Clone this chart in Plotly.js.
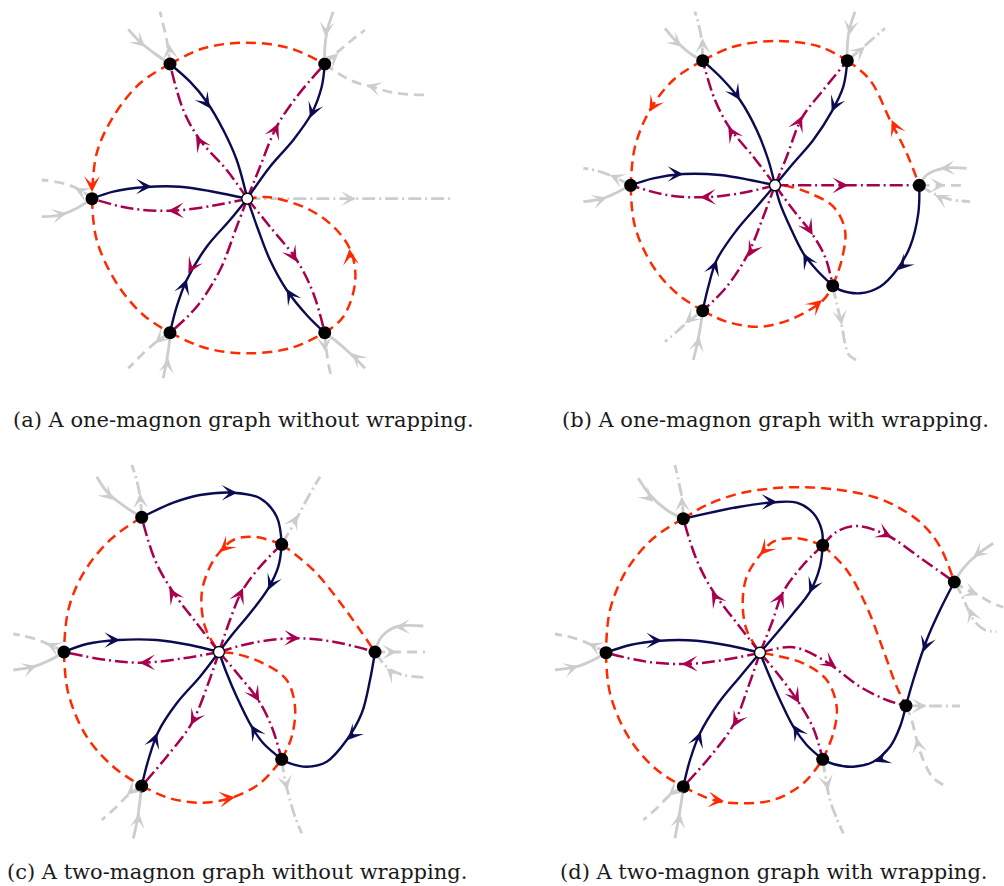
<!DOCTYPE html>
<html><head><meta charset="utf-8">
<script src="https://cdn.plot.ly/plotly-3.0.1.min.js"></script>
<style>html,body{margin:0;padding:0;background:#fff}#chart{width:1004px;height:886px}</style>
</head><body><div id="chart"></div>
<script>
// ---------- captions ----------
const captions = ["(a) A one-magnon graph without wrapping.", "(b) A one-magnon graph with wrapping.",
                  "(c) A two-magnon graph without wrapping.", "(d) A two-magnon graph with wrapping."];
const captionX = [243, 775, 237, 774];
const captionY = [420, 420, 872, 872];

// ---------- panel (a) ----------
const aCenter = [[247.3,198.7]];
const aNodes = [[92,198.7],[170,64],[324.7,64],[170,332.7],[324.7,332.7]];
const aNavy = [
 [[92,198.7],[113.3,191.7],[143.3,187.3],[180,186.7],[213.3,191.7],[247.3,198.7]],
 [[170,64],[190,81.7],[206.7,101.7],[223.3,130],[236.7,160],[247.3,198.7]],
 [[324.7,64],[321.7,86.7],[311.7,113.3],[293.3,140],[270,166.7],[247.3,198.7]],
 [[170,332.7],[176.7,306.7],[186.7,280],[206.7,246.7],[230,220],[247.3,198.7]],
 [[324.7,332.7],[306.7,315],[286.7,290],[270,260],[258.3,230],[247.3,198.7]]
];
const aPurple = [
 [[247.3,198.7],[216.7,205],[173.3,210.7],[130,208.3],[92,198.7]],
 [[247.3,198.7],[226.7,170],[200,140],[183.3,110],[170,64]],
 [[247.3,198.7],[260,166.7],[276.7,126.7],[296.7,96.7],[324.7,64]],
 [[247.3,198.7],[236.7,226.7],[220,270],[196.7,306.7],[170,332.7]],
 [[247.3,198.7],[270,226.7],[296.7,260],[313.3,293.3],[324.7,332.7]]
];
const aRed = [
 [[170,64],[203.3,48.3],[246.7,42.7],[290,48.3],[324.7,64]],
 [[170,64],[140,83.3],[113.3,116.7],[96.7,153.3],[92,198.7]],
 [[92,198.7],[96.7,240],[116.7,283.3],[143.3,315],[170,332.7]],
 [[170,332.7],[206.7,348.3],[246.7,353.3],[290,348.3],[324.7,332.7]],
 [[324.7,332.7],[343.3,316.7],[355,283.3],[351.7,253.3],[336.7,230],[310,210],[270,197.3],[247.3,198.7]]
];
const aGraySolid = [
 [[128.3,29.3],[140,41.7],[156.7,55],[170,64]],
 [[333.3,11.7],[327.3,30],[324.7,50],[324.7,64]],
 [[41.7,216.7],[60,215],[76.7,208.3],[92,198.7]],
 [[163.3,378.3],[166.7,360],[169.3,343.3],[170,332.7]],
 [[365,368.3],[350,353.3],[336.7,341.7],[324.7,332.7]]
];
const aGrayDash = [
 [[170,64],[166.7,40],[163.3,25],[160,11.7]],
 [[324.7,64],[340,50],[352,40],[365,30]],
 [[324.7,64],[350,80],[373.3,87.3],[396.7,93.3],[426.7,95]],
 [[92,198.7],[80,190],[63.3,183.3],[41.7,180]],
 [[170,332.7],[156.7,341.7],[143.3,353.3],[128.3,368.3]],
 [[324.7,332.7],[326,346.7],[328.3,363.3],[331.7,378.3]]
];
const aGrayDashDot = [ [[247.3,198.7],[350,198.7],[453.3,198.7]] ];
const aNavyArrows = [[151.7,186.5,1,0],[210,108.3,0.7,1],[310,118,-0.4,1],[186.7,279,0.33,-1],[286.7,289,-0.6,-1]];
const aPurpleArrows = [[168,210.7,-1,0.02],[196,136,-0.6,-1],[278.3,123.3,0.45,-1],[188.3,273.3,-0.55,1],[296.7,261.7,0.6,1]];
const aRedArrows = [[92,192,0,1],[349.5,249,-0.1,-1]];
const aGrayArrows = [[145,46.7,1,0.9],[325.5,36.7,-0.1,1],[66.7,213.3,1,-0.2],[168.3,358.3,0.15,-1],[351.7,353.3,-1,-0.9],
 [169,44,-0.1,-1],[338.3,53.3,1,-0.9],[366.7,85,-1,-0.3],[75,188.3,-1,-0.5],[155,343.3,-1,0.9],[325.3,351.7,0.08,1],[356,198.7,1,0]];

// ---------- panel (b) ----------
const bCenter = [[775,185.3]];
const bNodes = [[630.7,185.3],[702.7,60.7],[847.3,60.7],[919.3,185.3],[702.7,310.7],[832.7,285.7]];
const bNavy = [
 [[630.7,185.3],[653.3,178.3],[683.3,174],[720,175],[750,180],[775,185.3]],
 [[702.7,60.7],[723.3,80],[740,100],[756.7,130],[768.3,160],[775,185.3]],
 [[847.3,60.7],[843.3,86.7],[831.7,111.7],[813.3,140],[793.3,163.3],[775,185.3]],
 [[702.7,310.7],[708.3,286.7],[716.7,260],[736.7,230],[756.7,206.7],[775,185.3]],
 [[832.7,285.7],[816.7,270],[803.3,253.3],[790,226.7],[780,203.3],[775,185.3]],
 [[919.3,185.3],[918.3,213.3],[910,246.7],[896.7,270],[880,286.7],[860,293.3],[840,290],[832.7,285.7]]
];
const bPurple = [
 [[775,185.3],[740,193.3],[703.3,197.3],[666.7,195],[630.7,185.3]],
 [[775,185.3],[753.3,156.7],[730,128.3],[715,100],[702.7,60.7]],
 [[775,185.3],[786.7,156.7],[801.7,118.3],[823.3,90],[847.3,60.7]],
 [[775,185.3],[847,185.3],[919.3,185.3]],
 [[775,185.3],[763.3,216.7],[748.3,253.3],[726.7,286.7],[702.7,310.7]],
 [[775,185.3],[793.3,210],[811.7,233.3],[825,256.7],[832.7,285.7]]
];
const bRed = [
 [[702.7,60.7],[733.3,46.7],[776.7,41],[820,46.7],[847.3,60.7]],
 [[702.7,60.7],[673.3,80],[650,110],[635,146.7],[630.7,185.3]],
 [[630.7,185.3],[635,226.7],[653.3,266.7],[676.7,293.3],[702.7,310.7]],
 [[702.7,310.7],[726.7,321.7],[760,326.7],[793.3,318.3],[823.3,300],[832.7,285.7]],
 [[832.7,285.7],[841.7,260],[845,230],[833.3,206.7],[810,193.3],[790,186.7],[775,185.3]],
 [[847.3,60.7],[870,80],[890,120],[906.7,153.3],[919.3,185.3]]
];
const bGraySolid = [
 [[665,28.3],[675,40],[690,53.3],[702.7,60.7]],
 [[855,11.7],[849.3,30],[847.3,46.7],[847.3,60.7]],
 [[583.3,201.7],[603.3,198.3],[618.3,191.7],[630.7,185.3]],
 [[966.7,168.3],[943.3,168.3],[926.7,175],[919.3,185.3]],
 [[693.3,360],[697.3,343.3],[700.7,325],[702.7,310.7]]
];
const bGrayDash = [ [[919.3,185.3],[943,185.3],[966.7,185.3]] ];
const bGrayDashDot = [
 [[702.7,60.7],[701.7,40],[698.3,23.3],[695,11.7]],
 [[847.3,60.7],[860,50],[873.3,38.3],[885,28.3]],
 [[630.7,185.3],[613.3,176.7],[596.7,170.7],[583.3,168.3]],
 [[919.3,185.3],[933.3,193.3],[950,199.3],[970,201.7]],
 [[702.7,310.7],[688.3,321.7],[676.7,331.7],[665,341.7]],
 [[832.7,285.7],[837,305],[841.7,325],[845,343],[849,355],[856,360]]
];
const bNavyArrows = [[683.3,174,1,0],[740,100,0.65,1],[831.7,111.7,-0.45,1],[716.7,260,0.35,-1],[803.3,253.3,-0.55,-1],[898.3,270,-0.75,0.75]];
const bPurpleArrows = [[700,197.3,-1,0.03],[728.3,126.7,-0.6,-1],[802,116,0.45,-1],[848.3,185.3,1,0],[748.3,256.7,-0.55,1],[812.7,235,0.6,1]];
const bRedArrows = [[649.3,111.7,-0.6,1],[822,300,1,-0.85],[891.7,120,-0.45,-1]];
const bGrayArrows = [[681.7,46.7,1,0.85],[849.3,35,-0.15,1],[606.7,197.7,1,-0.3],[940,168.3,-1,0.05],[699.3,336.7,0.2,-1],
 [945,185.3,1,0],[702.7,38.3,0,-1],[865,46.7,1,-0.85],[610,175,-1,-0.45],[935,195,-1,-0.5],[685,323.3,-1,0.85],[841.7,325,0.15,1]];

// ---------- panel (c) ----------
const cCenter = [[219,652]];
const cNodes = [[64,652],[141.7,517.3],[281.7,544.3],[375,652],[141.7,786],[281.7,759.3]];
const cNavy = [
 [[64,652],[86.7,644],[118.3,640],[156.7,640],[190,645],[219,652]],
 [[141.7,517.3],[173.3,502.7],[200,495],[233.3,492.7],[260,498.3],[276.7,516.7],[281.7,544.3]],
 [[281.7,544.3],[278.3,566.7],[268.3,588.3],[250,613.3],[233.3,633.3],[219,652]],
 [[141.7,786],[148.3,760],[158.3,731.7],[176.7,703.3],[200,676.7],[219,652]],
 [[281.7,759.3],[263.3,743.3],[251.7,726.7],[236.7,696.7],[226.7,673.3],[219,652]],
 [[375,652],[370,680],[361.7,713.3],[346.7,740],[326.7,761.7],[306.7,766.7],[290,763.3],[281.7,759.3]]
];
const cPurple = [
 [[219,652],[183.3,658.3],[143.3,662.7],[106.7,660],[64,652]],
 [[219,652],[196.7,623.3],[171.7,590],[155,560],[141.7,517.3]],
 [[219,652],[230,620],[241.7,591.7],[260,566.7],[281.7,544.3]],
 [[219,652],[253.3,642.7],[293.3,638.3],[333.3,641.7],[375,652]],
 [[219,652],[208.3,683.3],[191.7,723.3],[166.7,756.7],[141.7,786]],
 [[219,652],[240,676.7],[258.3,700],[271.7,726.7],[281.7,759.3]]
];
const cRed = [
 [[141.7,517.3],[110,540],[83.3,573.3],[68.3,610],[64,652]],
 [[64,652],[68.3,693.3],[86.7,736.7],[113.3,766.7],[141.7,786]],
 [[141.7,786],[170,798.3],[200,802.7],[230,798.3],[260,783.3],[281.7,759.3]],
 [[281.7,759.3],[291.7,736.7],[295,706.7],[286.7,680],[263.3,663.3],[233.3,653.3],[219,652]],
 [[281.7,544.3],[313.3,570],[343.3,606.7],[375,652]],
 [[281.7,544.3],[253.3,536.7],[233.3,540],[220,551.7],[210,566.7],[201.7,593.3],[205,626.7],[219,652]]
];
const cGraySolid = [
 [[96.7,476.7],[108.3,493.3],[125,506.7],[141.7,517.3]],
 [[13.3,670],[33.3,666.7],[50,660],[64,652]],
 [[423.3,626],[396.7,626.7],[381.7,636.7],[375,652]],
 [[133.3,838.3],[137.3,820],[140,800],[141.7,786]]
];
const cGrayDash = [
 [[64,652],[50,645],[33.3,638.3],[13.3,634]],
 [[375,652],[400,652],[425,652]],
 [[141.7,786],[128.3,795],[115,808.3],[101.7,820]]
];
const cGrayDashDot = [
 [[141.7,517.3],[140,496.7],[136.7,480],[131.7,465]],
 [[281.7,544.3],[295,521.7],[308.3,496.7],[320,476.7]],
 [[375,652],[388.3,668.3],[403.3,675],[423.3,677.3]],
 [[281.7,759.3],[285,780],[290,800],[295,816.7],[301.7,833.3]]
];
const cNavyArrows = [[120,640,1,0],[237.3,492.7,1,0],[268.3,590,-0.45,1],[157,733,0.35,-1],[251,725,-0.6,-1],[347.7,740,-0.7,0.75]];
const cPurpleArrows = [[139.3,662.7,-1,0.02],[169.3,588.3,-0.6,-1],[243,588,0.45,-1],[300,638.3,1,0.02],[190.7,725,-0.55,1],[259.3,701.7,0.6,1]];
const cRedArrows = [[235,797.3,1,-0.15],[220,552,-0.75,0.7]];
const cGrayArrows = [[113.3,500,1,0.9],[36.7,666,1,-0.3],[395,627.3,-1,0.05],[139.3,813.3,0.15,-1],[46.7,643.3,-1,-0.45],
 [397,652,1,0],[126.7,795,-1,0.85],[140,493.3,-0.05,-1],[297.7,515,0.55,-1],[386.7,668.3,-1,-1],[287.3,790,0.2,1]];

// ---------- panel (d) ----------
const dCenter = [[760,652.7]];
const dNodes = [[606,652.7],[683.3,518.7],[822.7,545.3],[954.3,582],[906,705.7],[822.7,759.3],[683.3,786.7]];
const dNavy = [
 [[606,652.7],[630,645],[660,640.7],[696.7,640.7],[730,645.7],[760,652.7]],
 [[683.3,518.7],[740,506.7],[773.3,502.3],[796.7,502.7],[813.3,513.3],[821.7,530],[822.7,545.3]],
 [[822.7,545.3],[820,566.7],[810,591.7],[793.3,613.3],[776.7,633.3],[760,652.7]],
 [[683.3,786.7],[690,760],[700,733.3],[718.3,703.3],[740,676.7],[760,652.7]],
 [[822.7,759.3],[806.7,745],[793.3,726.7],[780,700],[768.3,673.3],[760,652.7]],
 [[954.3,582],[940,610],[926.7,640],[913.3,680],[906,705.7]],
 [[906,705.7],[900,726.7],[890,746.7],[873.3,761.7],[853.3,766.7],[833.3,764],[822.7,759.3]]
];
const dPurple = [
 [[760,652.7],[723.3,660],[686.7,664],[646.7,661.7],[606,652.7]],
 [[760,652.7],[738.3,625],[713.3,591.7],[696.7,560],[683.3,518.7]],
 [[760,652.7],[771.7,623.3],[783.3,591.7],[801.7,566.7],[822.7,545.3]],
 [[760,652.7],[748.3,686.7],[733.3,725],[710,756.7],[683.3,786.7]],
 [[760,652.7],[780,676.7],[798.3,701.7],[813.3,728.3],[822.7,759.3]],
 [[760,652.7],[793.3,647.3],[823.3,660],[860,686.7],[886.7,700],[906,705.7]],
 [[822.7,545.3],[836.7,531.7],[856.7,526],[886.7,535],[923.3,560],[954.3,582]]
];
const dRed = [
 [[683.3,518.7],[706.7,505],[740,493.3],[773.3,488.3],[806.7,487.3],[840,490],[873.3,496.7],[900,508.3],[923.3,525],[940,546.7],[954.3,582]],
 [[683.3,518.7],[653.3,538.3],[626.7,570],[610,610],[606,652.7]],
 [[606,652.7],[610,693.3],[628.3,736.7],[655,768.3],[683.3,786.7]],
 [[683.3,786.7],[713.3,800],[740,803.3],[773.3,800],[803.3,783.3],[822.7,759.3]],
 [[822.7,759.3],[833.3,733.3],[836.7,706.7],[826.7,680],[803.3,663.3],[773.3,655],[760,652.7]],
 [[822.7,545.3],[796.7,538.3],[773.3,541.7],[760,555],[746.7,576.7],[742.7,603.3],[746.7,630],[760,652.7]],
 [[822.7,545.3],[846.7,570],[866.7,606.7],[883.3,650],[896.7,686.7],[906,705.7]]
];
const dGraySolid = [
 [[638.3,478.3],[650,495],[666.7,510],[683.3,518.7]],
 [[555,670],[576.7,666.7],[593.3,660],[606,652.7]],
 [[993.3,543.3],[976.7,555],[963.3,568.3],[954.3,582]],
 [[675,838.3],[678.3,820],[681.7,800],[683.3,786.7]]
];
const dGrayDash = [
 [[606,652.7],[591.7,645],[575,638.3],[555,634]],
 [[954.3,582],[965,589],[978.3,595],[990,602],[1003.3,607.3]],
 [[906,705.7],[911.7,720],[916.7,740],[923.3,760],[933.3,778],[945,785.7]],
 [[683.3,786.7],[670,795],[656.7,808.3],[643.3,820]]
];
const dGrayDashDot = [
 [[683.3,518.7],[681.7,496.7],[678.3,480],[675,465]],
 [[954.3,582],[961.7,595],[968.3,610],[975,622],[985,630],[996.7,631.7]],
 [[906,705.7],[933,706],[960,706]],
 [[822.7,759.3],[826,780],[830,800],[836.7,818.3],[843.3,833.3]]
];
const dNavyArrows = [[662,640.5,1,0],[777.3,502,1,0],[809.3,593.3,-0.45,1],[700.7,731.7,0.35,-1],[793.3,725,-0.6,-1],[923.3,651.7,-0.35,1],[875,761.7,-1,0.4]];
const dPurpleArrows = [[681.7,664,-1,0.02],[711.7,591.7,-0.6,-1],[783.3,591.7,0.45,-1],[733,727,-0.55,1],[799.3,703.3,0.6,1],[836,667.3,1,0.7],[891.7,537.3,1,0.5]];
const dRedArrows = [[724,801,1,0.1],[760,555,-0.7,0.75]];
const dGrayArrows = [[653.3,501.7,1,0.9],[578.3,666,1,-0.3],[973.3,557.3,-1,0.8],[680,813.3,0.15,-1],[588.3,643.3,-1,-0.45],
 [978.3,595,1,0.4],[916.7,738,-0.2,-1],[668.3,796,-1,0.85],[681.7,496.7,-0.05,-1],[969.5,608,-0.35,-1],[926.7,706,1,0],[828.3,790,0.2,1]];

// ---------- styles ----------
const NAVY = '#0b0b52', PURPLE = '#a8004e', RED = '#ff2a00', GRAY = '#cdcdcd';
const DASH = '10px,6px', DASHDOT = '13px,4px,2px,4px';

const traces = [];
const annotations = [];
function addEdges(list, color, width, dash) {
  list.forEach(pts => {
    traces.push({type:'scatter', mode:'lines', x: pts.map(p=>p[0]), y: pts.map(p=>p[1]),
      line:{color:color, width:width, dash:dash, shape:'spline', smoothing:1}, hoverinfo:'skip'});
  });
}
function addArrows(list, color, width, size) {
  list.forEach(a => {
    const n = Math.hypot(a[2], a[3]), L = 10;
    annotations.push({x:a[0], y:a[1], xref:'x', yref:'y', text:'', showarrow:true,
      ax:-a[2]/n*L, ay:-a[3]/n*L, arrowhead:3, arrowsize:size, arrowwidth:width, arrowcolor:color});
  });
}
function addNodes(nodes, center) {
  traces.push({type:'scatter', mode:'markers', x:nodes.map(p=>p[0]), y:nodes.map(p=>p[1]),
    marker:{color:'#000', size:13, line:{width:0}}, hoverinfo:'skip'});
  traces.push({type:'scatter', mode:'markers', x:center.map(p=>p[0]), y:center.map(p=>p[1]),
    marker:{color:'#fff', size:11, line:{color:'#000', width:1.4}}, hoverinfo:'skip'});
}

const panels = [
  [aGraySolid,aGrayDash,aGrayDashDot,aRed,aPurple,aNavy,aNodes,aCenter,aGrayArrows,aRedArrows,aPurpleArrows,aNavyArrows],
  [bGraySolid,bGrayDash,bGrayDashDot,bRed,bPurple,bNavy,bNodes,bCenter,bGrayArrows,bRedArrows,bPurpleArrows,bNavyArrows],
  [cGraySolid,cGrayDash,cGrayDashDot,cRed,cPurple,cNavy,cNodes,cCenter,cGrayArrows,cRedArrows,cPurpleArrows,cNavyArrows],
  [dGraySolid,dGrayDash,dGrayDashDot,dRed,dPurple,dNavy,dNodes,dCenter,dGrayArrows,dRedArrows,dPurpleArrows,dNavyArrows]
];
panels.forEach(p => {
  addEdges(p[0], GRAY, 2.8, 'solid');
  addEdges(p[1], GRAY, 2.8, DASH);
  addEdges(p[2], GRAY, 2.8, DASHDOT);
  addEdges(p[3], RED, 2.5, DASH);
  addEdges(p[4], PURPLE, 2.5, DASHDOT);
  addEdges(p[5], NAVY, 2.4, 'solid');
  addNodes(p[6], p[7]);
  addArrows(p[8], GRAY, 2.6, 0.95);
  addArrows(p[9], RED, 2.5, 1.05);
  addArrows(p[10], PURPLE, 2.5, 1.05);
  addArrows(p[11], NAVY, 2.4, 1.08);
});
captions.forEach((t,i) => {
  annotations.push({x:captionX[i], y:captionY[i], xref:'x', yref:'y', text:t, showarrow:false,
    xanchor:'center', yanchor:'middle', font:{family:'DejaVu Serif', size:21, color:'#1a1a1a'}});
});

const layout = {
  width:1004, height:886, margin:{l:0,r:0,t:0,b:0}, showlegend:false,
  paper_bgcolor:'#fff', plot_bgcolor:'#fff',
  xaxis:{range:[0,1004], visible:false, fixedrange:true},
  yaxis:{range:[886,0], visible:false, fixedrange:true},
  annotations:annotations
};
Plotly.newPlot('chart', traces, layout, {staticPlot:true, displayModeBar:false});
</script></body></html>
